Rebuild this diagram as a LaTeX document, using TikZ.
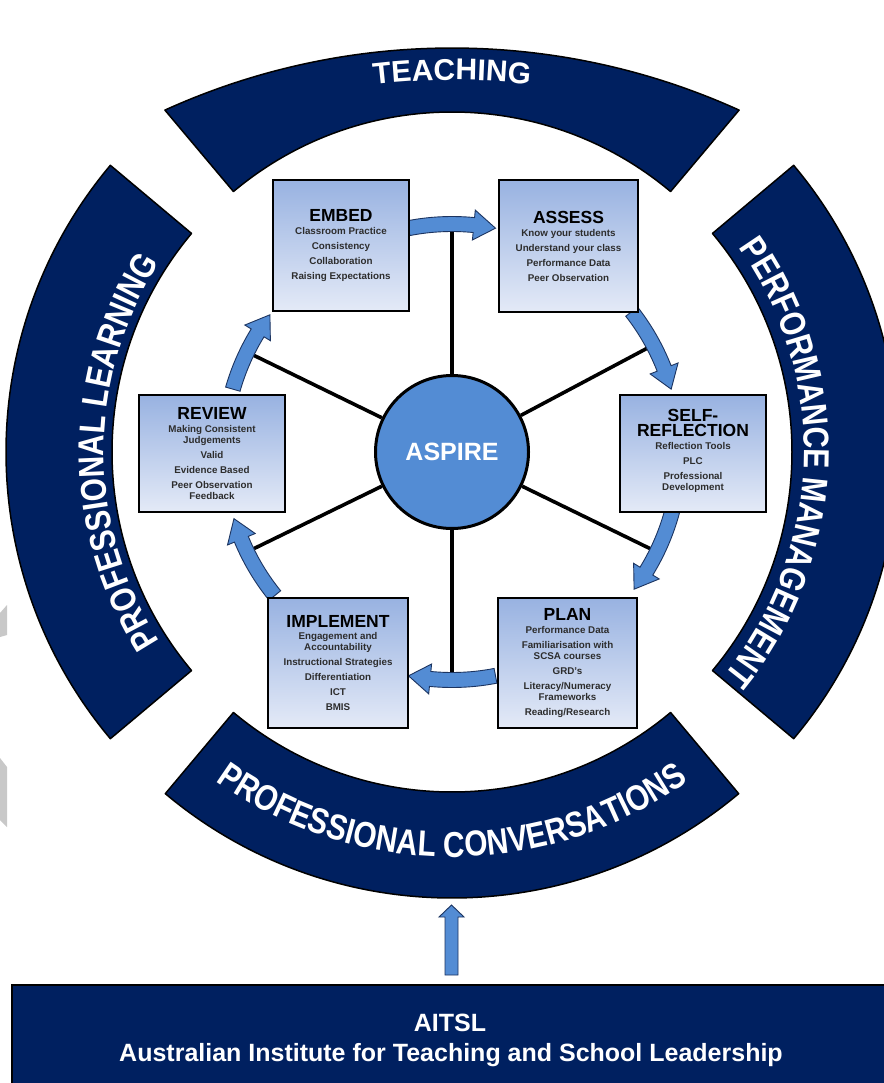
\documentclass[tikz,border=0pt]{standalone}
\usepackage{fontspec}
\setmainfont{Liberation Sans}
\newfontfamily\bandsans[FakeStretch=0.83]{Liberation Sans}
\usetikzlibrary{calc,decorations.text}

\definecolor{navy}{RGB}{0,32,96}
\definecolor{midblue}{RGB}{83,140,212}
\definecolor{arrowedge}{RGB}{28,52,96}
\definecolor{boxtop}{RGB}{152,178,225}
\definecolor{boxbot}{RGB}{228,234,247}
\definecolor{itemgray}{RGB}{45,45,45}
\definecolor{sliver}{RGB}{200,200,200}

\newcommand\boxtitle{\bfseries\fontsize{17.5}{15}\selectfont\color{black}}
\newcommand\boxitem{\bfseries\fontsize{9.8}{11}\selectfont}
\newcommand\bandfont{\bfseries\fontsize{30}{30}\selectfont\color{white}}
\newcommand\wideband{\bandsans\bfseries\fontsize{36}{36}\selectfont\color{white}}

% block arrow bent along the circle around (O), from angle #1 to its tip at angle #2
\newcommand\bentarrow[2]{%
  \pgfmathsetmacro\headbase{#2-5.5}%
  \draw[bent] ($(O)+(#1:220.5)$) arc[start angle=#1, end angle=\headbase, radius=220.5]
    -- ($(O)+(\headbase:213)$) -- ($(O)+(#2:228)$)
    -- ($(O)+(\headbase:243)$) -- ($(O)+(\headbase:235.5)$)
    arc[start angle=\headbase, end angle=#1, radius=235.5] -- cycle;}

\begin{document}
\begin{tikzpicture}[x=1pt, y=-1pt,
  band/.style={fill=navy, draw=black, line width=1.5pt, line join=round},
  bent/.style={fill=midblue, draw=arrowedge, line width=0.9pt},
  spoke/.style={draw=black, line width=3.6pt},
  stage/.style={draw=black, line width=1.6pt, top color=boxtop, bottom color=boxbot,
    align=center, inner sep=0pt, font=\boxitem, text=itemgray},
  bandtext/.style={decorate, decoration={text along path, text align=center,
    text={|\bandfont|#1}}},
  widetext/.style={decorate, decoration={text along path, text align=center,
    text={|\wideband|#1}}}
]
\useasboundingbox (0,0) rectangle (883,1083);
\fill[white] (0,0) rectangle (883,1083);

% centre of the ring and of the flatter outer edge of the top band
\coordinate (O) at (452,452);
\coordinate (T) at (452,743);

% clipped slivers at the left edge
\fill[sliver] (0,613) -- (7,605) -- (7,635) -- (0,637) -- cycle;
\fill[sliver] (0,758) -- (7,767) -- (7,827) -- (0,820) -- cycle;

% the four bands of the ring
\draw[band] ($(O)+(-130:340)$) arc[start angle=-130, end angle=-50, radius=340]
  -- ($(T)+(-65.6:695)$) arc[start angle=-65.6, end angle=-114.4, radius=695] -- cycle;
\draw[band] ($(O)+(-40:340)$) arc[start angle=-40, end angle=40, radius=340]
  -- ($(O)+(40:446)$) arc[start angle=40, end angle=-40, radius=446] -- cycle;
\draw[band] ($(O)+(50:340)$) arc[start angle=50, end angle=130, radius=340]
  -- ($(O)+(130:446)$) arc[start angle=130, end angle=50, radius=446] -- cycle;
\draw[band] ($(O)+(140:340)$) arc[start angle=140, end angle=220, radius=340]
  -- ($(O)+(220:446)$) arc[start angle=220, end angle=140, radius=446] -- cycle;

% band captions
\path[bandtext={TEACHING}] ($(T)+(-105:663)$) arc[start angle=-105, end angle=-75, radius=663];
\path[widetext={PERFORMANCE MANAGEMENT}] ($(O)+(-39:352)$) arc[start angle=-39, end angle=43, radius=352];
\path[widetext={PROFESSIONAL CONVERSATIONS}] ($(O)+(132:405)$) arc[start angle=132, end angle=48, radius=405];
\path[widetext={PROFESSIONAL LEARNING}] ($(O)+(144:348)$) arc[start angle=144, end angle=216, radius=348];

% hub
\node[circle, fill=midblue, draw=black, line width=3pt, minimum size=153, inner sep=0pt,
  font=\bfseries\fontsize{25}{25}\selectfont, text=white] (aspire) at (O) {ASPIRE};

% spokes
\coordinate (sa) at ($(O)+(-90:228)$);
\coordinate (sb) at ($(O)+(-28:228)$);
\coordinate (sc) at ($(O)+(26:228)$);
\coordinate (sd) at ($(O)+(90:228)$);
\coordinate (se) at ($(O)+(154:228)$);
\coordinate (sf) at ($(O)+(206:228)$);
\foreach \s in {sa,sb,sc,sd,se,sf} \draw[spoke] (aspire) -- (\s);

% cycle arrows
\bentarrow{-101}{-79}
\bentarrow{-38}{-16}
\bentarrow{15}{37}
\bentarrow{79}{101}
\bentarrow{141}{163}
\bentarrow{196}{217}

% stage boxes
\node[stage, minimum width=136, minimum height=131] (embed) at (341,245.5)
  {{\boxtitle EMBED}\\[2pt] Classroom Practice\\[4pt] Consistency\\[4pt] Collaboration\\[4pt] Raising Expectations};
\node[stage, minimum width=139, minimum height=132] (assess) at (568.5,246)
  {{\boxtitle ASSESS}\\[2pt] Know your students\\[4pt] Understand your class\\[4pt] Performance Data\\[4pt] Peer Observation};
\node[stage, minimum width=146, minimum height=117] (selfref) at (693,453.5)
  {{\boxtitle SELF-}\\[2pt] {\boxtitle REFLECTION}\\[2pt] Reflection Tools\\[4pt] PLC\\[4pt] Professional\\ Development\\[-4pt]};
\node[stage, minimum width=139, minimum height=130] (plan) at (567.5,663)
  {{\boxtitle PLAN}\\[2pt] Performance Data\\[4pt] Familiarisation with\\ SCSA courses\\[4pt] GRD’s\\[4pt] Literacy/Numeracy\\ Frameworks\\[4pt] Reading/Research};
\node[stage, minimum width=140, minimum height=130] (implement) at (338,663)
  {{\boxtitle IMPLEMENT}\\[1pt] Engagement and\\ Accountability\\[4pt] Instructional Strategies\\[4pt] Differentiation\\[4pt] ICT\\[4pt] BMIS};
\node[stage, minimum width=146, minimum height=117] (review) at (212,453.5)
  {{\boxtitle REVIEW}\\[2pt] Making Consistent\\ Judgements\\[4pt] Valid\\[4pt] Evidence Based\\[4pt] Peer Observation\\ Feedback};

% AITSL foundation bar
\fill[navy] (12,985) rectangle (900,1100);
\draw[black, line width=1.5pt] (900,985) -- (12,985) -- (12,1100);
\node[font=\bfseries\fontsize{25}{25}\selectfont, text=white] (aitsl) at (450,1023) {AITSL};
\node[font=\bfseries\fontsize{25}{25}\selectfont, text=white] (aitslname) at (451,1055)
  {Australian Institute for Teaching and School Leadership};

% upward arrow from the bar to the ring
\coordinate (upfoot) at (451.5,975);
\coordinate (uptip) at (451.5,905);
\draw[bent] ($(upfoot)+(-6.5,0)$) -- ($(uptip)+(-6.5,12)$) -- ($(uptip)+(-12.5,12)$)
  -- (uptip) -- ($(uptip)+(12.5,12)$) -- ($(uptip)+(6.5,12)$) -- ($(upfoot)+(6.5,0)$) -- cycle;
\end{tikzpicture}
\end{document}
